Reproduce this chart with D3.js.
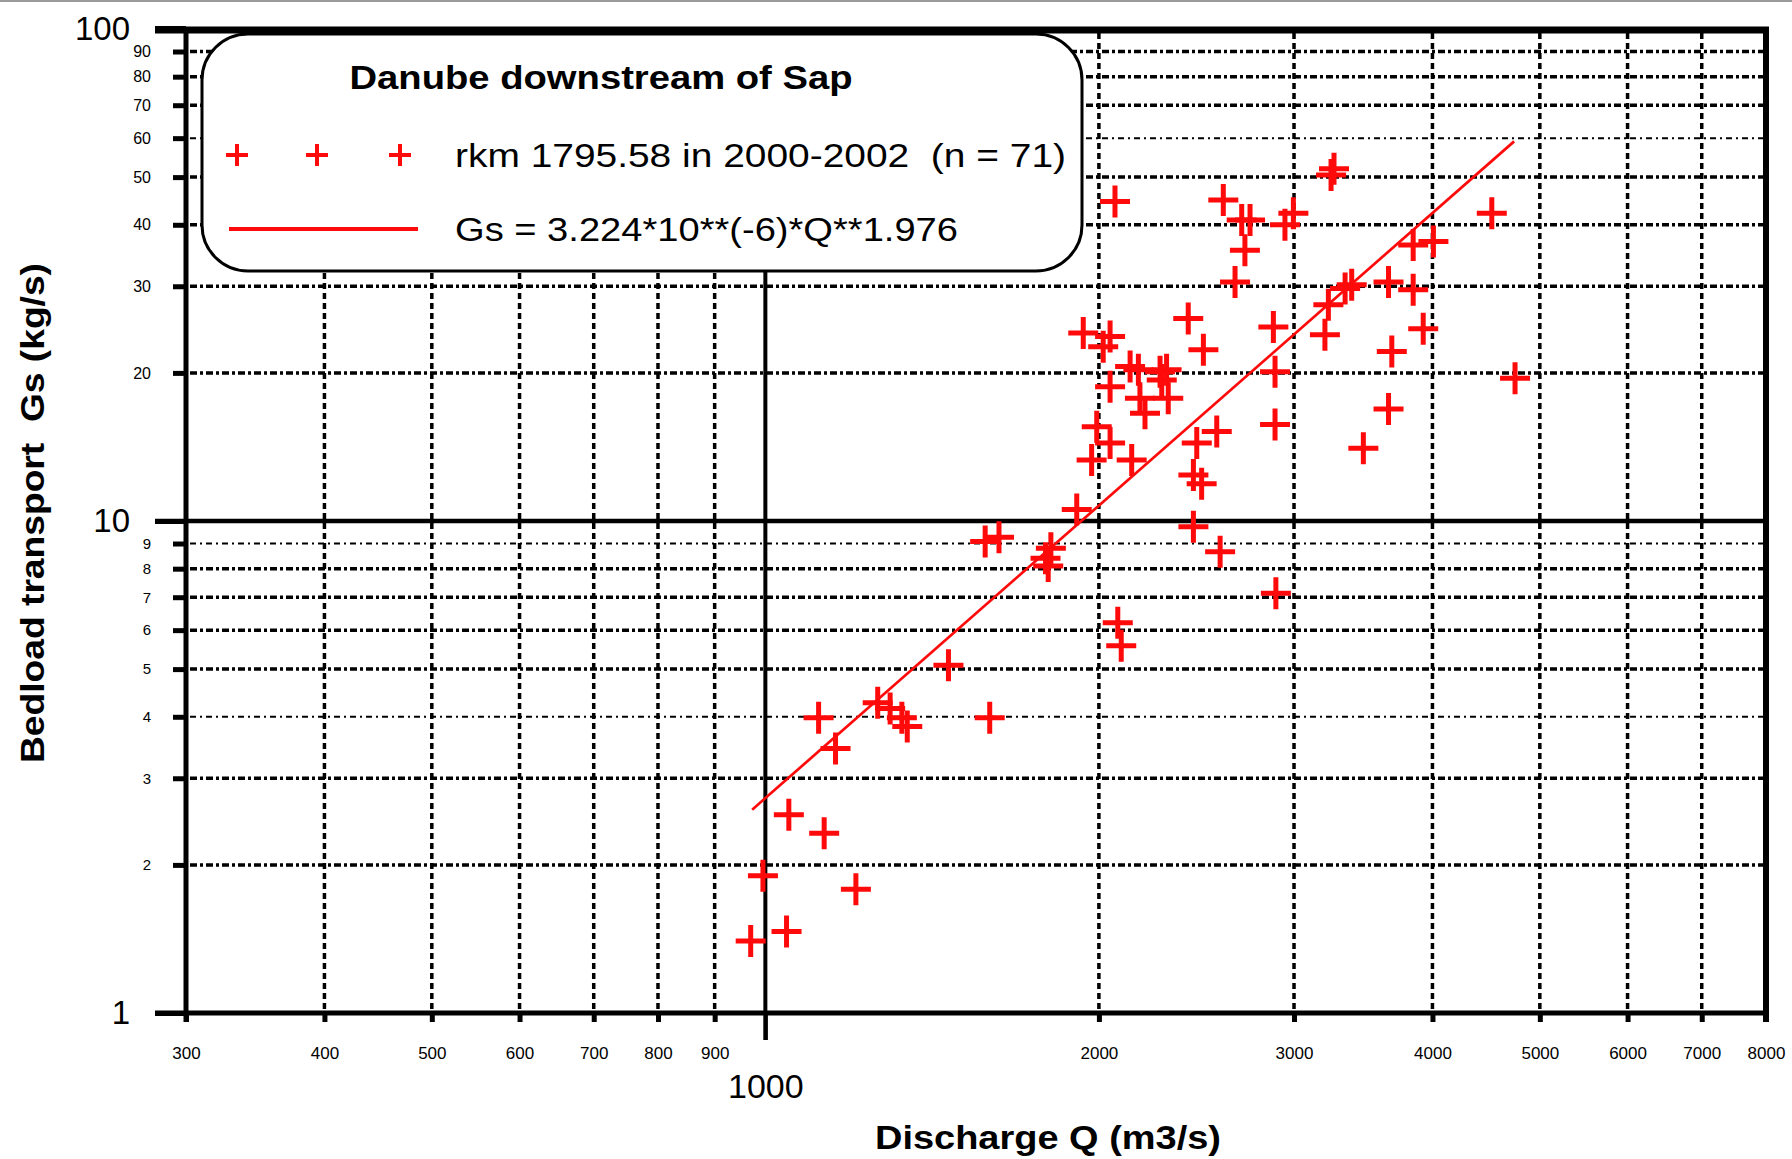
<!DOCTYPE html>
<html><head><meta charset="utf-8">
<script src="https://cdn.jsdelivr.net/npm/d3@7"></script>
<style>body{margin:0;background:#fff} svg{display:block} text{white-space:pre}</style>
</head><body><svg id="c" width="1792" height="1159"></svg>
<script>
// ---- data ----
const discharge = [970,995,1045,1050,1117,1130,1157,1207,1263,1296,1328,1343,1463,1594,1579,1625,1790,1810,1800,1910,2080,2095,3240,3260,2068,2590,2691,2738,2709,2654,2996,2944,4525,4008,3843,3382,3336,3222,3199,3651,3843,3924,3676,3651,3465,2874,2884,2884,2408,2485,2555,2451,2434,2476,2434,2573,2889,2271,1936,2047,2018,2134,2171,2047,2178,2201,2302,2279,2310,1991,2047,1970,2141,4749];
const bedload = [1.40,1.90,1.465,2.53,3.98,2.32,3.45,1.785,4.27,4.16,3.98,3.82,5.09,3.98,9.08,9.27,8.4,8.8,8.1,10.55,6.21,5.58,50.5,52.0,44.6,44.9,40.9,40.9,35.5,30.6,42.2,40.0,42.2,37.0,36.4,30.2,29.7,27.5,23.9,30.6,29.5,24.6,22.1,16.9,14.05,24.8,20.1,15.7,25.8,22.3,15.2,14.4,12.4,11.9,9.74,8.66,7.13,20.1,24.1,23.7,22.6,20.6,20.3,18.75,17.76,16.55,20.3,19.35,17.76,15.55,14.4,13.3,13.3,19.5];
const fitQ = [973, 4740];
const fitGs = [2.59, 59.1];
const xTicksMinor = [300,400,500,600,700,800,900,2000,3000,4000,5000,6000,7000,8000];
const xTickMajor = [1000];
const yTicksMinor = [2,3,4,5,6,7,8,9,20,30,40,50,60,70,80,90];
const yTicksMajor = [1,10,100];
const yGridLight = [4,9,60];
const xGrid = [400,500,600,700,800,900,2000,3000,4000,5000,6000,7000];
const legendTitle = "Danube downstream of Sap";
const legendPoints = "rkm 1795.58 in 2000-2002  (n = 71)";
const legendLine = "Gs = 3.224*10**(-6)*Q**1.976";
const xTitle = "Discharge Q (m3/s)";
const yTitle = "Bedload transport  Gs (kg/s)";

const FONT = "'Liberation Sans', Arial, Helvetica, sans-serif";
const svg = d3.select("#c");
const x = d3.scaleLog().domain([300, 8000]).range([186, 1766]);
const y = d3.scaleLog().domain([1, 100]).range([1013, 29]);
const RED = "#ff0a0a";

// top gray border line
svg.append("line").attr("x1",0).attr("x2",1792).attr("y1",1).attr("y2",1).attr("stroke","#9a9a9a").attr("stroke-width",2);

// gridlines
const g = svg.append("g");
g.selectAll(".hg").data(yTicksMinor).join("line")
  .attr("x1", 190).attr("x2", 1763)
  .attr("y1", d => y(d)).attr("y2", d => y(d))
  .attr("stroke", "#000")
  .attr("stroke-width", d => yGridLight.includes(d) ? 2 : 3.5)
  .attr("stroke-dasharray", d => yGridLight.includes(d) ? "6,4,2,4" : "7,3,3,3");
g.selectAll(".vg").data(xGrid).join("line")
  .attr("x1", d => x(d)).attr("x2", d => x(d))
  .attr("y1", 33).attr("y2", 1011)
  .attr("stroke", "#000").attr("stroke-width", 3.5)
  .attr("stroke-dasharray", "6,4");

// solid major lines
svg.append("line").attr("x1",155).attr("x2",1766).attr("y1",y(10)).attr("y2",y(10)).attr("stroke","#000").attr("stroke-width",4.5);
svg.append("line").attr("x1",x(1000)).attr("x2",x(1000)).attr("y1",30).attr("y2",1040).attr("stroke","#000").attr("stroke-width",4);

// axes via d3
const axL = svg.append("g").attr("transform","translate(186,0)")
  .call(d3.axisLeft(y).tickValues(yTicksMinor).tickSize(13).tickPadding(22).tickFormat(d3.format("d")));
axL.select(".domain").remove();
axL.selectAll("line").attr("stroke-width",5);
axL.selectAll("text").attr("font-family",FONT).attr("font-size",d => d<10 ? 15 : 16).attr("fill","#000");

const axLM = svg.append("g").attr("transform","translate(186,0)")
  .call(d3.axisLeft(y).tickValues(yTicksMajor).tickSize(31).tickPadding(25).tickFormat(d3.format("d")));
axLM.select(".domain").remove();
axLM.selectAll("line").attr("stroke-width", d => d===100 ? 7 : 5);
axLM.selectAll("text").attr("font-family",FONT).attr("font-size",33).attr("fill","#000");

const axB = svg.append("g").attr("transform","translate(0,1013)")
  .call(d3.axisBottom(x).tickValues(xTicksMinor).tickSize(9).tickPadding(25).tickFormat(d3.format("d")));
axB.select(".domain").remove();
axB.selectAll("line").attr("stroke-width",5);
axB.selectAll("text").attr("font-family",FONT).attr("font-size",17).attr("fill","#000");

const axBM = svg.append("g").attr("transform","translate(0,1013)")
  .call(d3.axisBottom(x).tickValues(xTickMajor).tickSize(27).tickPadding(34).tickFormat(d3.format("d")));
axBM.select(".domain").remove();
axBM.selectAll("line").attr("stroke-width",4);
axBM.selectAll("text").attr("font-family",FONT).attr("font-size",34).attr("fill","#000");

// frame
svg.append("line").attr("x1",155).attr("x2",1769).attr("y1",30).attr("y2",30).attr("stroke","#000").attr("stroke-width",7);
svg.append("line").attr("x1",155).attr("x2",1769).attr("y1",1013).attr("y2",1013).attr("stroke","#000").attr("stroke-width",5);
svg.append("line").attr("x1",186).attr("x2",186).attr("y1",27).attr("y2",1022).attr("stroke","#000").attr("stroke-width",5);
svg.append("line").attr("x1",1766).attr("x2",1766).attr("y1",27).attr("y2",1022).attr("stroke","#000").attr("stroke-width",6);

// legend
const lg = svg.append("g");
lg.append("rect").attr("x",202).attr("y",34).attr("width",880).attr("height",237).attr("rx",46)
  .attr("fill","#fff").attr("stroke","#000").attr("stroke-width",3);
lg.append("text").attr("x",601).attr("y",77).attr("dy","0.35em").attr("text-anchor","middle")
  .attr("font-family",FONT).attr("font-weight","bold").attr("font-size",33)
  .attr("textLength",503).attr("lengthAdjust","spacingAndGlyphs").text(legendTitle);
lg.selectAll(".lp").data([237,317,400]).join("path")
  .attr("d", d => `M${d-11},155H${d+11}M${d},144V166`).attr("stroke",RED).attr("stroke-width",4);
lg.append("text").attr("x",455).attr("y",155).attr("dy","0.35em").attr("xml:space","preserve")
  .attr("font-family",FONT).attr("font-size",34)
  .attr("textLength",611).attr("lengthAdjust","spacingAndGlyphs").text(legendPoints);
lg.append("line").attr("x1",229).attr("x2",418).attr("y1",229).attr("y2",229).attr("stroke",RED).attr("stroke-width",4);
lg.append("text").attr("x",455).attr("y",229).attr("dy","0.35em")
  .attr("font-family",FONT).attr("font-size",34)
  .attr("textLength",503).attr("lengthAdjust","spacingAndGlyphs").text(legendLine);

// regression line
svg.append("path")
  .datum(fitQ.map((q,i) => [q, fitGs[i]]))
  .attr("d", d3.line().x(d => x(d[0])).y(d => y(d[1])))
  .attr("stroke", RED).attr("stroke-width", 2.7).attr("fill","none");

// points
const pts = discharge.map((q,i) => [q, bedload[i]]);
svg.append("g").selectAll("path").data(pts).join("path")
  .attr("transform", d => `translate(${x(d[0])},${y(d[1])})`)
  .attr("d", "M-15,0H15M0,-16V16")
  .attr("stroke", RED).attr("stroke-width", 5).attr("fill","none");

// axis titles
svg.append("text").attr("x",1048).attr("y",1137).attr("dy","0.35em").attr("text-anchor","middle")
  .attr("font-family",FONT).attr("font-weight","bold").attr("font-size",33)
  .attr("textLength",346).attr("lengthAdjust","spacingAndGlyphs").text(xTitle);
svg.append("text").attr("transform","translate(32,513) rotate(-90)").attr("dy","0.35em").attr("text-anchor","middle")
  .attr("xml:space","preserve")
  .attr("font-family",FONT).attr("font-weight","bold").attr("font-size",33)
  .attr("textLength",500).attr("lengthAdjust","spacingAndGlyphs").text(yTitle);
</script></body></html>
